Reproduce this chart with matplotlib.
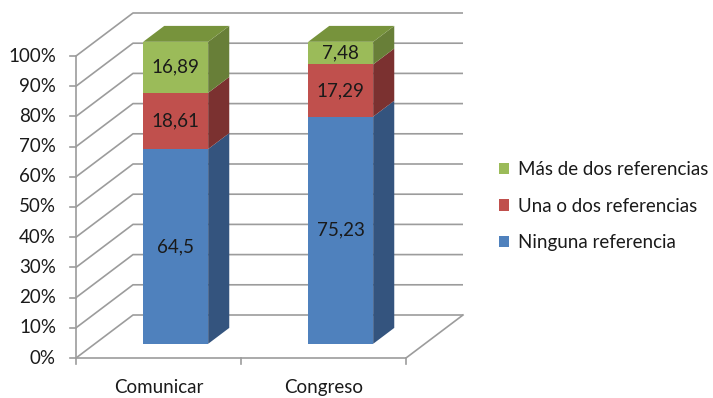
import numpy as np
import matplotlib
matplotlib.use("Agg")
import matplotlib.pyplot as plt
from matplotlib.patches import Polygon, Patch

plt.rcParams["font.family"] = ["Lato", "DejaVu Sans"]

categorias = ["Comunicar", "Congreso"]
series = ["Ninguna referencia", "Una o dos referencias", "Más de dos referencias"]
ninguna = [64.5, 75.23]
una_o_dos = [18.61, 17.29]
mas_de_dos = [16.89, 7.48]
etiquetas = [["64,5", "75,23"], ["18,61", "17,29"], ["16,89", "7,48"]]
ticks_y = list(range(0, 101, 10))

color_frente = ["#4F81BD", "#C0504D", "#9BBB59"]
color_lado = ["#34547E", "#7B3130", "#687F38"]
color_tapa = "#77933C"
gris = "#9C9C9C"

# geometria de la proyeccion oblicua (pixeles de la figura)
X0, Y0 = 76, 358
ANCHO_CAT = 165
ALTO = 302 / 100
PROF = (57, -43)


def proy(x, pct, d):
    """x en unidades de categoria, pct en %, d profundidad 0..1"""
    px = X0 + x * ANCHO_CAT + d * PROF[0]
    py = Y0 - pct * ALTO + d * PROF[1]
    return px, py


fig = plt.figure(figsize=(7.13, 3.98), dpi=100)
ax = fig.add_axes([0, 0, 1, 1])
ax.set_xlim(0, 713)
ax.set_ylim(398, 0)
ax.axis("off")

n = len(categorias)
lw = 1.2
fs = 13.5

# paredes: lineas de division en la pared izquierda y la del fondo
for t in ticks_y:
    a = proy(0, t, 0)
    b = proy(0, t, 1)
    c = proy(n, t, 1)
    ax.plot([a[0], b[0], c[0]], [a[1], b[1], c[1]], color=gris, lw=lw, zorder=1,
            solid_capstyle="butt")
    # marca del eje y
    ax.plot([a[0] - 6, a[0]], [a[1], a[1]], color=gris, lw=lw, zorder=1)
    ax.text(a[0] - 20, a[1], f"{t}%", ha="right", va="center", fontsize=fs,
            color="#1a1a1a")

# eje vertical frontal
a0 = proy(0, 0, 0)
a1 = proy(0, 100, 0)
ax.plot([a0[0], a1[0]], [a0[1], a1[1]], color=gris, lw=lw, zorder=1)

# piso: borde frontal y borde derecho
f0 = proy(0, 0, 0)
f1 = proy(n, 0, 0)
f2 = proy(n, 0, 1)
ax.plot([f0[0], f1[0], f2[0]], [f0[1], f1[1], f2[1]], color=gris, lw=lw, zorder=1)
for i in range(n + 1):
    p = proy(i, 0, 0)
    ax.plot([p[0], p[0]], [p[1], p[1] + 6], color=gris, lw=lw, zorder=1)

# nombres de categoria pegados al borde inferior
for i, cat in enumerate(categorias):
    p = proy(i + 0.5, 0, 0)
    ax.text(p[0], 396, cat, ha="center", va="bottom", fontsize=fs,
            color="#1a1a1a")

# barras apiladas 3D
ancho = 0.394
d0, d1 = 0.33, 0.70
valores = [ninguna, una_o_dos, mas_de_dos]
for i in range(n):
    xl = i + 0.5 - ancho / 2 - 0.01
    xr = xl + ancho
    base = 0.0
    for s, vals in enumerate(valores):
        top = base + vals[i]
        frente = [proy(xl, base, d0), proy(xr, base, d0),
                  proy(xr, top, d0), proy(xl, top, d0)]
        lado = [proy(xr, base, d0), proy(xr, base, d1),
                proy(xr, top, d1), proy(xr, top, d0)]
        ax.add_patch(Polygon(lado, closed=True, fc=color_lado[s], ec="none", zorder=3))
        ax.add_patch(Polygon(frente, closed=True, fc=color_frente[s], ec="none", zorder=4))
        cx, cy = proy((xl + xr) / 2, (base + top) / 2, d0)
        ax.text(cx, cy, etiquetas[s][i], ha="center", va="center", fontsize=fs,
                color="#1a1a1a", zorder=5)
        base = top
    tapa = [proy(xl, base, d0), proy(xr, base, d0),
            proy(xr, base, d1), proy(xl, base, d1)]
    ax.add_patch(Polygon(tapa, closed=True, fc=color_tapa, ec="none", zorder=3))

# leyenda
manejadores = [Patch(fc=color_frente[s], ec="none") for s in range(3)][::-1]
ax.legend(manejadores, series[::-1], loc="center left",
          bbox_to_anchor=(482 / 713, 1 - 206 / 398), frameon=False,
          fontsize=fs, handlelength=0.55, handleheight=0.55, handletextpad=0.45,
          labelspacing=1.05, labelcolor="#1a1a1a")

fig.savefig("out.png", dpi=100)
